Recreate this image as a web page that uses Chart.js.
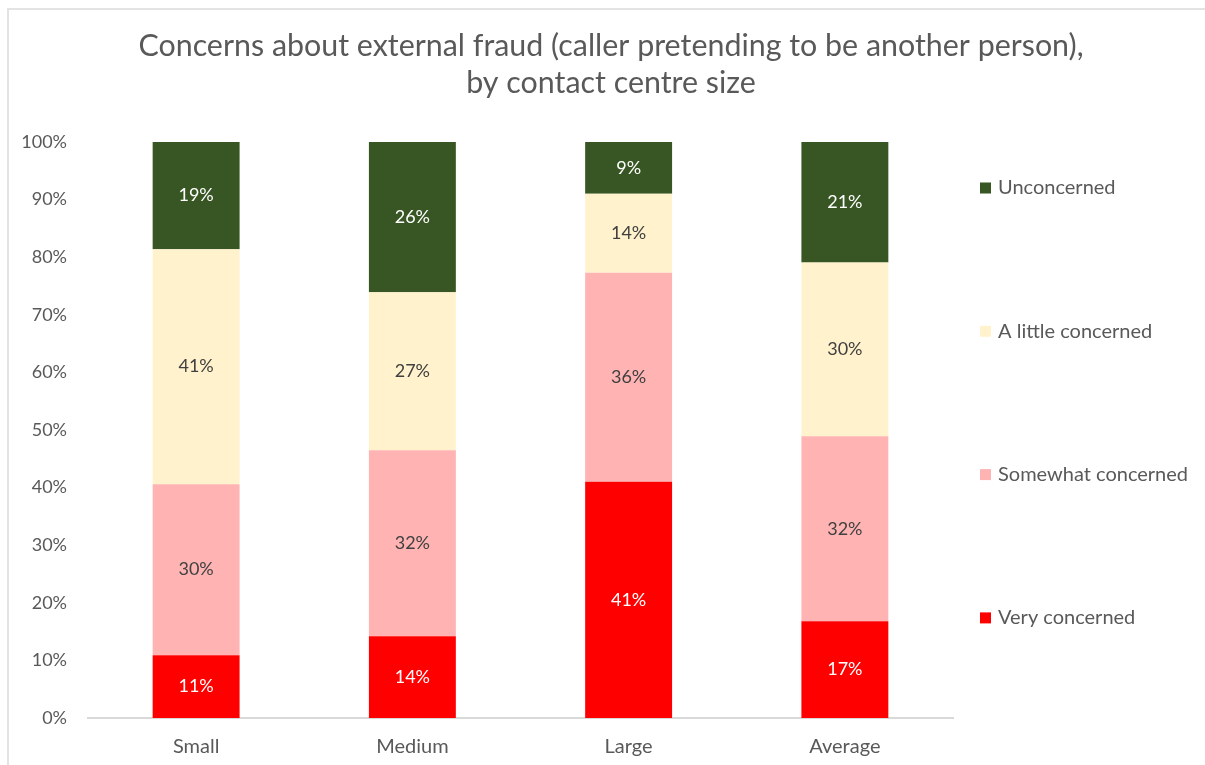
<!DOCTYPE html>
<html>
<head>
<meta charset="utf-8">
<title>Concerns about external fraud by contact centre size</title>
<script src="https://cdn.jsdelivr.net/npm/chart.js@4/dist/chart.umd.min.js"></script>
<style>
  html, body { margin: 0; padding: 0; background: #ffffff; }
  #wrap { position: relative; width: 1205px; height: 765px; overflow: hidden; }
  #frame { position: absolute; left: 7px; top: 8px; right: -10px; bottom: -10px;
           border-left: 2px solid #e3e3e3; border-top: 2px solid #e3e3e3; pointer-events: none; }
  canvas { position: absolute; left: 0; top: 0; }
</style>
</head>
<body>
<div id="wrap">
  <canvas id="chart" width="1205" height="765"></canvas>
  <div id="frame"></div>
</div>
<script>
// Contact centre size groups
const categories = ['Small', 'Medium', 'Large', 'Average'];

// Share of respondents (%) in each concern level, per size group
const veryConcerned     = [10.9, 14.2, 41.0, 16.8];
const somewhatConcerned = [29.7, 32.3, 36.3, 32.1];
const littleConcerned   = [40.8, 27.4, 13.7, 30.2];
const unconcerned       = [18.6, 26.1,  9.0, 20.9];

const seriesNames = ['Very concerned', 'Somewhat concerned', 'A little concerned', 'Unconcerned'];
const yTicks = [0, 10, 20, 30, 40, 50, 60, 70, 80, 90, 100];
const titleLines = ['Concerns about external fraud (caller pretending to be another person),', 'by contact centre size'];

const FONT = 'Lato, "Open Sans", sans-serif';
const GREY = '#595959';

const seriesStyle = [
  { fill: '#ff0000', label: '#ffffff' },
  { fill: '#ffb3b3', label: '#404040' },
  { fill: '#fff2cc', label: '#404040' },
  { fill: '#375623', label: '#ffffff' }
];

const seriesValues = [veryConcerned, somewhatConcerned, littleConcerned, unconcerned];

// Two-line heading centred across the whole chart
const heading = {
  id: 'heading',
  afterDraw(chart) {
    const ctx = chart.ctx;
    ctx.save();
    ctx.font = '30.4px ' + FONT;
    ctx.fillStyle = GREY;
    ctx.textAlign = 'center';
    ctx.textBaseline = 'middle';
    titleLines.forEach((line, i) => ctx.fillText(line, 611, 46 + i * 37));
    ctx.restore();
  }
};

// Percent labels centred in every stacked segment
const segmentLabels = {
  id: 'segmentLabels',
  afterDatasetsDraw(chart) {
    const ctx = chart.ctx;
    ctx.save();
    ctx.font = '18px ' + FONT;
    ctx.textAlign = 'center';
    ctx.textBaseline = 'middle';
    chart.data.datasets.forEach((ds, i) => {
      const meta = chart.getDatasetMeta(i);
      meta.data.forEach((bar, j) => {
        const v = ds.data[j];
        const cy = (bar.y + bar.base) / 2;
        ctx.fillStyle = seriesStyle[i].label;
        ctx.fillText(Math.round(v) + '%', bar.x, cy);
      });
    });
    ctx.restore();
  }
};

// Vertical legend to the right of the plot, top series first
const sideLegend = {
  id: 'sideLegend',
  afterDraw(chart) {
    const ctx = chart.ctx;
    const area = chart.chartArea;
    const n = chart.data.datasets.length;
    ctx.save();
    ctx.font = '20px ' + FONT;
    ctx.textAlign = 'left';
    ctx.textBaseline = 'middle';
    for (let k = 0; k < n; k++) {
      const i = n - 1 - k;
      const ds = chart.data.datasets[i];
      const y = area.top + 46 + k * 143.3;
      ctx.fillStyle = ds.backgroundColor;
      ctx.fillRect(area.right + 27, y - 5.5, 11, 11);
      ctx.fillStyle = GREY;
      ctx.fillText(ds.label, area.right + 45, y);
    }
    ctx.restore();
  }
};

new Chart(document.getElementById('chart'), {
  type: 'bar',
  data: {
    labels: categories,
    datasets: seriesValues.map((vals, i) => ({
      label: seriesNames[i],
      data: vals,
      backgroundColor: seriesStyle[i].fill,
      borderWidth: 0,
      categoryPercentage: 1,
      barPercentage: 0.402
    }))
  },
  options: {
    responsive: false,
    animation: false,
    devicePixelRatio: 1,
    layout: { padding: { left: 0, right: 252, top: 142, bottom: 0 } },
    plugins: {
      legend: { display: false },
      tooltip: { enabled: false },
      title: { display: false }
    },
    scales: {
      x: {
        stacked: true,
        grid: { display: false, drawTicks: false },
        border: { display: true, color: '#d9d9d9', width: 2 },
        ticks: { color: GREY, font: { family: FONT, size: 20 }, padding: 17 },
        afterFit(scale) { scale.height = 47; }
      },
      y: {
        stacked: true,
        min: 0,
        max: 100,
        afterBuildTicks(scale) { scale.ticks = yTicks.map(v => ({ value: v })); },
        grid: { display: false, drawTicks: false },
        border: { display: false },
        ticks: {
          color: GREY,
          font: { family: FONT, size: 18 },
          padding: 21,
          callback: v => v + '%'
        },
        afterFit(scale) { scale.width = 88; }
      }
    }
  },
  plugins: [heading, segmentLabels, sideLegend]
});
</script>
</body>
</html>
